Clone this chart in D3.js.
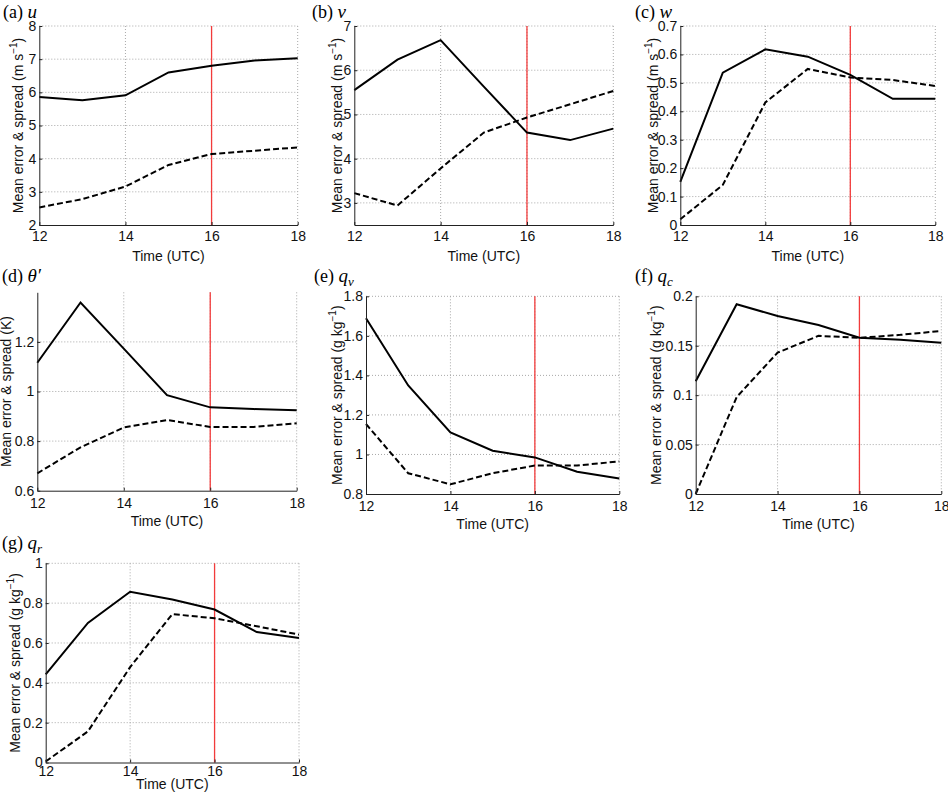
<!DOCTYPE html>
<html>
<head>
<meta charset="utf-8">
<script src="https://cdn.jsdelivr.net/npm/d3@7"></script>
<style>
  body { margin: 0; background: #fff; }
  svg { display: block; }
</style>
</head>
<body>
<div id="chart"></div>
<script>
// hours of the forecast (UTC)
var hours = [12, 13, 14, 15, 16, 17, 18];
var xTicks = [12, 14, 16, 18];
var markHour = 16;

// solid = mean error, dashed = spread
var uError = [5.86, 5.76, 5.91, 6.60, 6.80, 6.96, 7.03];
var uSpread = [2.53, 2.78, 3.16, 3.81, 4.14, 4.24, 4.34];
var vError = [5.55, 6.24, 6.68, 5.63, 4.59, 4.42, 4.68];
var vSpread = [3.22, 2.94, 3.78, 4.59, 4.93, 5.23, 5.53];
var wError = [0.152, 0.536, 0.618, 0.592, 0.528, 0.444, 0.444];
var wSpread = [0.020, 0.141, 0.431, 0.549, 0.519, 0.510, 0.489];
var thetaError = [1.116, 1.359, 1.173, 0.985, 0.936, 0.929, 0.924];
var thetaSpread = [0.670, 0.775, 0.855, 0.885, 0.857, 0.857, 0.872];
var qvError = [1.689, 1.349, 1.111, 1.019, 0.985, 0.913, 0.878];
var qvSpread = [1.154, 0.905, 0.849, 0.905, 0.944, 0.944, 0.965];
var qcError = [0.114, 0.192, 0.180, 0.171, 0.158, 0.156, 0.153];
var qcSpread = [0.000, 0.098, 0.143, 0.160, 0.158, 0.161, 0.165];
var qrError = [0.442, 0.701, 0.857, 0.818, 0.768, 0.655, 0.625];
var qrSpread = [0.005, 0.156, 0.479, 0.745, 0.724, 0.684, 0.642];

// y axes
var uTicks = [2, 3, 4, 5, 6, 7, 8];
var vTicks = [3, 4, 5, 6, 7];
var wTicks = [0, 0.1, 0.2, 0.3, 0.4, 0.5, 0.6, 0.7];
var thetaTicks = [0.6, 0.8, 1, 1.2];
var qvTicks = [0.8, 1, 1.2, 1.4, 1.6, 1.8];
var qcTicks = [0, 0.05, 0.1, 0.15, 0.2];
var qrTicks = [0, 0.2, 0.4, 0.6, 0.8, 1];
var yDomains = [[2, 8], [2.5, 7], [0, 0.7], [0.6, 1.4], [0.8, 1.8], [0, 0.2], [0, 1]];

var letters = ["(a)", "(b)", "(c)", "(d)", "(e)", "(f)", "(g)"];
var symbols = ["u", "v", "w", "θ′", "q", "q", "q"];
var subscripts = ["", "", "", "", "v", "c", "r"];
var units = ["m s", "m s", "m s", "K", "g kg", "g kg", "g kg"];
var unitPowers = ["−1", "−1", "−1", "", "−1", "−1", "−1"];

var errors = [uError, vError, wError, thetaError, qvError, qcError, qrError];
var spreads = [uSpread, vSpread, wSpread, thetaSpread, qvSpread, qcSpread, qrSpread];
var yTicksAll = [uTicks, vTicks, wTicks, thetaTicks, qvTicks, qcTicks, qrTicks];

// panel boxes: left, top, right, bottom + where labels go
var boxes = [
  { l: 39.3, t: 26, r: 297.7, b: 225, ylx: 23, tx: 3, ty: 18, pad: 6, tdy: 36 },
  { l: 354.3, t: 26, r: 613.3, b: 225, ylx: 342, tx: 312, ty: 18, pad: 6, tdy: 36 },
  { l: 680.3, t: 26, r: 935.3, b: 225, ylx: 658, tx: 635, ty: 18, pad: 6, tdy: 36 },
  { l: 37.3, t: 292.3, r: 296.7, b: 490.7, ylx: 11, tx: 2, ty: 282, pad: 7, tdy: 35 },
  { l: 366, t: 296.3, r: 619.3, b: 494, ylx: 342, tx: 314, ty: 282, pad: 7, tdy: 35 },
  { l: 695.7, t: 296.3, r: 941.3, b: 494, ylx: 661, tx: 635, ty: 282, pad: 7, tdy: 35 },
  { l: 45.7, t: 563.3, r: 299, b: 762.5, ylx: 20, tx: 2, ty: 549, pad: 4, tdy: 27 }
];

var svg = d3
  .select("#chart")
  .append("svg")
  .attr("width", 948)
  .attr("height", 795);

var fmt = function (d) {
  return String(+d.toFixed(3));
};

boxes.forEach(function (bx, i) {
  var w = bx.r - bx.l,
    h = bx.b - bx.t;
  var g = svg.append("g").attr("transform", "translate(" + bx.l + "," + bx.t + ")");

  var x = d3.scaleLinear().domain([12, 18]).range([0, w]);
  var y = d3.scaleLinear().domain(yDomains[i]).range([h, 0]);
  var yt = yTicksAll[i];

  // dotted grid at the ticks
  g.append("g")
    .selectAll("line")
    .data(yt.filter(function (d) { return d !== yDomains[i][0]; }))
    .enter()
    .append("line")
    .attr("x1", 0)
    .attr("x2", w)
    .attr("y1", function (d) { return y(d); })
    .attr("y2", function (d) { return y(d); })
    .attr("stroke", "#a8a8a8")
    .attr("stroke-width", 1)
    .attr("stroke-dasharray", "1,2");
  g.append("g")
    .selectAll("line")
    .data(xTicks.filter(function (d) { return d !== 12; }))
    .enter()
    .append("line")
    .attr("x1", function (d) { return x(d); })
    .attr("x2", function (d) { return x(d); })
    .attr("y1", 0)
    .attr("y2", h)
    .attr("stroke", "#a8a8a8")
    .attr("stroke-width", 1)
    .attr("stroke-dasharray", "1,2");

  // red marker line
  g.append("line")
    .attr("x1", x(markHour))
    .attr("x2", x(markHour))
    .attr("y1", 0)
    .attr("y2", h)
    .attr("stroke", "#f23b3b")
    .attr("stroke-width", 1.3);

  var line = d3
    .line()
    .x(function (d, k) { return x(hours[k]); })
    .y(function (d) { return y(d); });

  g.append("path")
    .attr("d", line(spreads[i]))
    .attr("fill", "none")
    .attr("stroke", "#000")
    .attr("stroke-width", 2)
    .attr("stroke-dasharray", "6,3");
  g.append("path")
    .attr("d", line(errors[i]))
    .attr("fill", "none")
    .attr("stroke", "#000")
    .attr("stroke-width", 2);

  // axes, ticks point inwards like matlab
  var ax = g
    .append("g")
    .call(
      d3.axisLeft(y).tickValues(yt).tickSizeInner(-3).tickSizeOuter(0).tickPadding(3).tickFormat(fmt)
    );
  var bx2 = g
    .append("g")
    .attr("transform", "translate(0," + h + ")")
    .call(
      d3.axisBottom(x).tickValues(xTicks).tickSizeInner(-3).tickSizeOuter(0).tickPadding(bx.pad).tickFormat(d3.format("d"))
    );
  [ax, bx2].forEach(function (a) {
    a.attr("font-family", null).attr("font-size", null);
    a.selectAll("text")
      .attr("font-family", "'Liberation Sans', Arial, sans-serif")
      .attr("font-size", 14)
      .attr("fill", "#111");
    a.selectAll("path, line").attr("stroke", "#222");
  });

  // x label
  g.append("text")
    .attr("x", w / 2)
    .attr("y", h + bx.tdy)
    .attr("text-anchor", "middle")
    .attr("font-family", "'Liberation Sans', Arial, sans-serif")
    .attr("font-size", 14)
    .attr("fill", "#111")
    .text("Time (UTC)");

  // y label
  var yl = svg
    .append("text")
    .attr("transform", "translate(" + bx.ylx + "," + (bx.t + h / 2) + ") rotate(-90)")
    .attr("text-anchor", "middle")
    .attr("font-family", "'Liberation Sans', Arial, sans-serif")
    .attr("font-size", 14)
    .attr("fill", "#111");
  yl.append("tspan").text("Mean error & spread (" + units[i]);
  if (unitPowers[i]) {
    yl.append("tspan").attr("dy", -6).attr("font-size", 10).text(unitPowers[i]);
    yl.append("tspan").attr("dy", 6).text(")");
  } else {
    yl.append("tspan").text(")");
  }

  // panel title
  var tt = svg
    .append("text")
    .attr("x", bx.tx)
    .attr("y", bx.ty)
    .attr("font-family", "'Liberation Serif', 'Times New Roman', serif")
    .attr("font-size", 18)
    .attr("fill", "#000");
  tt.append("tspan").text(letters[i] + " ");
  tt.append("tspan").attr("font-style", "italic").attr("font-size", 19).text(symbols[i]);
  if (subscripts[i]) {
    tt.append("tspan")
      .attr("font-style", "italic")
      .attr("font-size", 13)
      .attr("dy", 4)
      .text(subscripts[i]);
  }
});
</script>
</body>
</html>
